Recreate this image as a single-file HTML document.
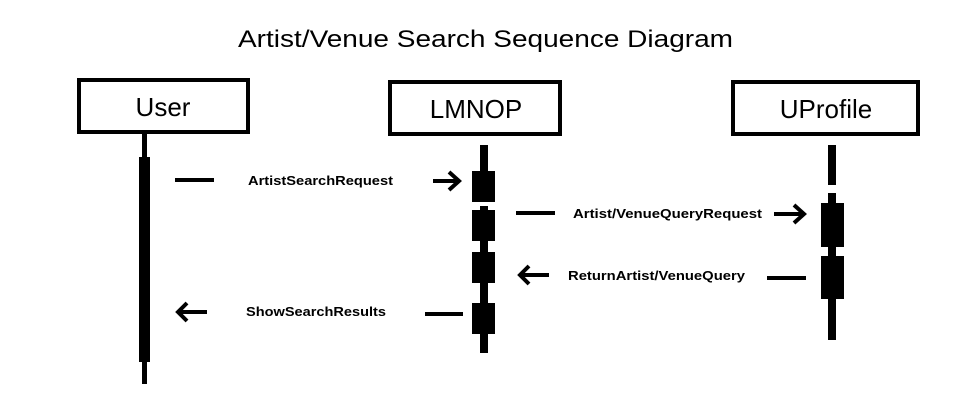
<!DOCTYPE html>
<html><head><meta charset="utf-8"><style>html,body{margin:0;padding:0;background:#fff}svg{display:block}</style></head>
<body>
<svg width="974" height="419" viewBox="0 0 974 419" xmlns="http://www.w3.org/2000/svg">
<rect width="974" height="419" fill="#fff"/>
<text x="238" y="47" font-family="Liberation Sans, sans-serif" font-size="24" textLength="495" lengthAdjust="spacingAndGlyphs" fill="#000">Artist/Venue Search Sequence Diagram</text>
<g fill="none" stroke="#000" stroke-width="4">
<rect x="79" y="80" width="169" height="52"/>
<rect x="390" y="82" width="170" height="52"/>
<rect x="733" y="82" width="185" height="52"/>
</g>
<g font-family="Liberation Sans, sans-serif" font-size="26" fill="#000" text-anchor="middle">
<text x="163" y="116">User</text>
<text x="476" y="118">LMNOP</text>
<text x="826" y="118">UProfile</text>
</g>
<!-- User lifeline -->
<rect x="142" y="134" width="5" height="250" fill="#000"/>
<rect x="139" y="157" width="11" height="205" fill="#000"/>
<!-- LMNOP lifeline -->
<rect x="480" y="145" width="8" height="57" fill="#000"/>
<rect x="480" y="206" width="8" height="147" fill="#000"/>
<rect x="472" y="171" width="23" height="31" fill="#000"/>
<rect x="472" y="210" width="23" height="31" fill="#000"/>
<rect x="472" y="252" width="23" height="31" fill="#000"/>
<rect x="472" y="303" width="23" height="31" fill="#000"/>
<rect x="480" y="283" width="8" height="20" fill="#000"/>
<!-- UProfile lifeline -->
<rect x="828" y="145" width="8" height="40" fill="#000"/>
<rect x="828" y="193" width="8" height="147" fill="#000"/>
<rect x="821" y="203" width="23" height="44" fill="#000"/>
<rect x="821" y="256" width="23" height="43" fill="#000"/>
<!-- messages -->
<g stroke="#000" stroke-width="4" fill="none">
<line x1="175" y1="180" x2="214" y2="180"/>
<line x1="433" y1="181" x2="458" y2="181"/><polyline points="449,172 459,181 449,190"/>
<line x1="516" y1="213" x2="555" y2="213"/>
<line x1="774" y1="214" x2="804" y2="214"/><polyline points="794,205 804,214 794,223"/>
<line x1="520" y1="275" x2="549" y2="275"/><polyline points="529,266 520,275 529,284"/>
<line x1="767" y1="278" x2="806" y2="278"/>
<line x1="178" y1="312" x2="207" y2="312"/><polyline points="187,303 178,312 187,321"/>
<line x1="425" y1="314" x2="463" y2="314"/>
</g>
<g font-family="Liberation Sans, sans-serif" font-size="13" font-weight="bold" fill="#000">
<text x="248" y="185" textLength="145" lengthAdjust="spacingAndGlyphs">ArtistSearchRequest</text>
<text x="573" y="218" textLength="189" lengthAdjust="spacingAndGlyphs">Artist/VenueQueryRequest</text>
<text x="568" y="280" textLength="177" lengthAdjust="spacingAndGlyphs">ReturnArtist/VenueQuery</text>
<text x="246" y="316" textLength="140" lengthAdjust="spacingAndGlyphs">ShowSearchResults</text>
</g>
</svg>
</body></html>
